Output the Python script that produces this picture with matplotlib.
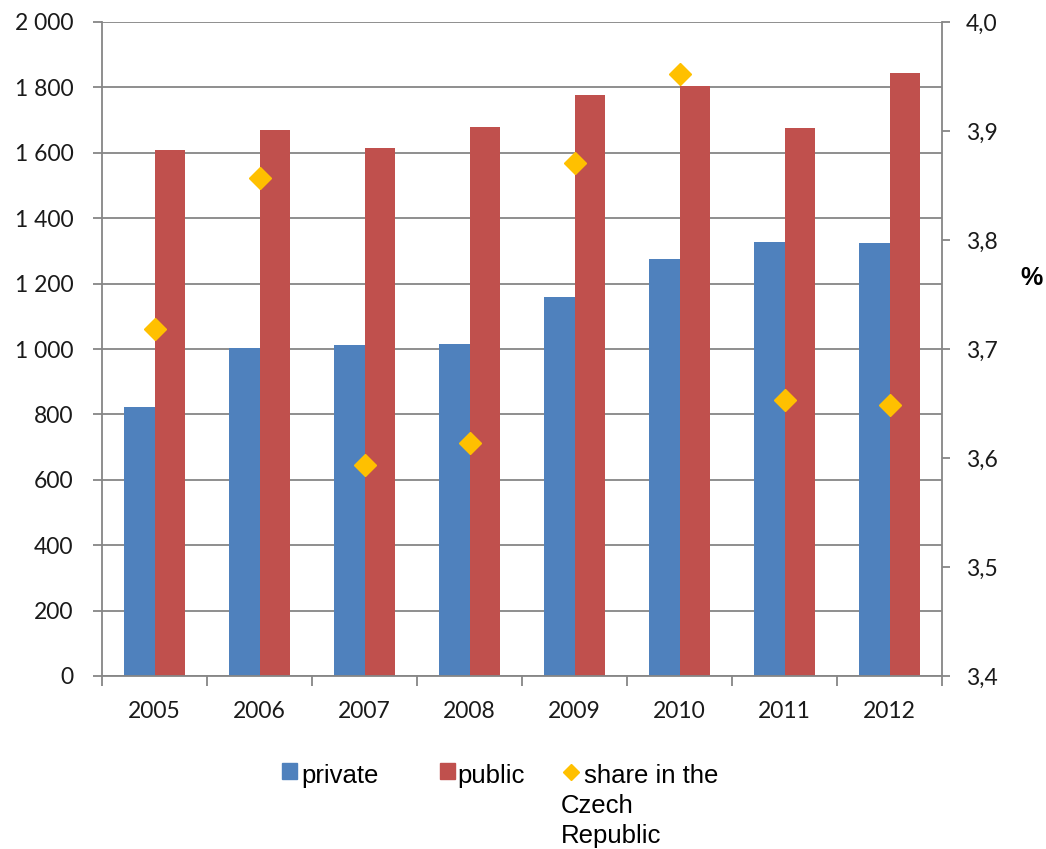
import matplotlib.pyplot as plt
import numpy as np
from matplotlib.patches import Rectangle
from matplotlib.lines import Line2D
from matplotlib.ticker import FuncFormatter

years = ['2005', '2006', '2007', '2008', '2009', '2010', '2011', '2012']
private = [822, 1003, 1011, 1016, 1159, 1275, 1327, 1324]
public = [1609, 1670, 1615, 1679, 1776, 1804, 1677, 1845]
share = [3.718, 3.857, 3.594, 3.614, 3.871, 3.952, 3.653, 3.649]

c_private = '#4F81BD'
c_public = '#C0504D'
c_share = '#FFC000'
gridc = '#868686'
tick_font = 'Lato'
leg_font = 'Liberation Sans'

W, H = 1046, 849
fig = plt.figure(figsize=(W / 100, H / 100), dpi=100)
ax = fig.add_axes([102 / W, (H - 676) / H, 840 / W, 654 / H])

x = np.arange(len(years))
bw = 0.286
ax.bar(x - bw / 2, private, bw, color=c_private, zorder=2)
ax.bar(x + bw / 2, public, bw, color=c_public, zorder=2)

ax.set_xlim(-0.5, len(years) - 0.5)
ax.set_ylim(0, 2000)
ax.set_yticks(np.arange(0, 2001, 200))
ax.yaxis.set_major_formatter(FuncFormatter(lambda v, p: f'{int(v):,}'.replace(',', ' ')))
ax.yaxis.grid(True, color=gridc, lw=1.3)
ax.set_axisbelow(True)

# category boundaries carry the ticks, labels sit in the middle
ax.set_xticks(np.arange(-0.5, len(years), 1.0))
ax.set_xticklabels([])
ax.set_xticks(x, minor=True)
ax.set_xticklabels(years, minor=True)
ax.tick_params(axis='x', which='major', direction='out', length=7, width=1.3, color=gridc)
ax.tick_params(axis='x', which='minor', length=0, pad=18)
ax.tick_params(axis='y', direction='out', length=6.5, width=1.3, color=gridc, pad=14)

for lab in ax.get_xticklabels(minor=True) + ax.get_yticklabels():
    lab.set_fontfamily(tick_font)
    lab.set_fontsize(16.5)
    lab.set_color('#1a1a1a')

for s in ['top', 'right']:
    ax.spines[s].set_visible(False)
for s in ['left', 'bottom']:
    ax.spines[s].set_color(gridc)
    ax.spines[s].set_linewidth(1.3)

ax2 = ax.twinx()
ax2.plot(x, share, ls='none', marker='D', ms=11.5, color=c_share, zorder=3)
ax2.set_ylim(3.4, 4.0)
ax2.set_yticks(np.arange(3.4, 4.001, 0.1))
ax2.yaxis.set_major_formatter(FuncFormatter(lambda v, p: f'{v:.1f}'.replace('.', ',')))
ax2.tick_params(axis='y', direction='out', length=6, width=1.3, color=gridc, pad=11)
for lab in ax2.get_yticklabels():
    lab.set_fontfamily(tick_font)
    lab.set_fontsize(16.5)
    lab.set_color('#1a1a1a')
for s in ['top', 'left', 'bottom']:
    ax2.spines[s].set_visible(False)
ax2.spines['right'].set_color(gridc)
ax2.spines['right'].set_linewidth(1.3)
ax2.set_ylabel('%', rotation=0, fontsize=18, fontweight='bold', family=leg_font,
               va='center', ha='center')
ax2.yaxis.set_label_coords(1.106, 0.609)

# legend below the plot
def fx(px):
    return px / W

def fy(py):
    return (H - py) / H

leg_size = 18.5
fig.add_artist(Rectangle((fx(282), fy(779)), 15 / W, 16 / H, transform=fig.transFigure,
                         color=c_private))
fig.text(fx(301), fy(783), 'private', fontsize=leg_size, family=leg_font, va='baseline')
fig.add_artist(Rectangle((fx(440), fy(779)), 15 / W, 16 / H, transform=fig.transFigure,
                         color=c_public))
fig.text(fx(457), fy(783), 'public', fontsize=leg_size, family=leg_font, va='baseline')
fig.add_artist(Line2D([fx(571)], [fy(772)], transform=fig.transFigure, ls='none',
                      marker='D', ms=8, color=c_share))
share_label = 'share in the\nCzech\nRepublic'
for i, line in enumerate(share_label.split('\n')):
    lx = 584 if i == 0 else 561
    fig.text(fx(lx), fy(783 + i * 30), line, fontsize=leg_size, family=leg_font, va='baseline')

fig.savefig('out.png', dpi=100)
